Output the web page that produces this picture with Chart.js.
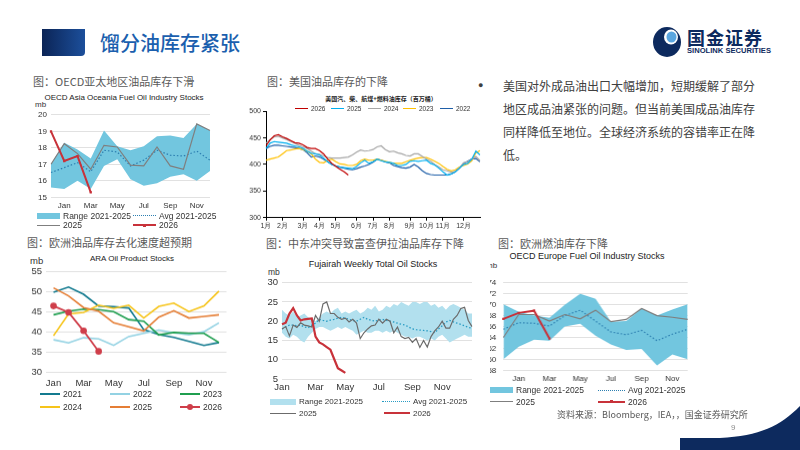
<!DOCTYPE html>
<html lang="zh">
<head>
<meta charset="UTF-8">
<title>馏分油库存紧张</title>
<script src="https://cdn.jsdelivr.net/npm/chart.js"></script>
<style>
  body { margin:0; width:800px; height:450px; position:relative; overflow:hidden; background:#fff;
         font-family:'Liberation Sans', Arial, 'Noto Sans CJK SC', sans-serif; }
  .abs { position:absolute; white-space:nowrap; }
  .cn { font-family:'Noto Sans CJK SC', sans-serif; }
  .cap { font-family:'Noto Sans CJK SC', sans-serif; font-size:11px; color:#595959; line-height:14px; }
  .ttl { font-size:8px; color:#222; transform:translateX(-50%); line-height:10px; }
  .box { position:absolute; }
  .lg { position:absolute; display:flex; align-items:center; height:10px; white-space:nowrap; color:#333; }
  .sw { position:relative; display:inline-block; height:10px; margin-right:3px; }
</style>
</head>
<body>

<!-- header -->
<div class="abs" style="left:42px;top:29px;width:43px;height:27px;background:linear-gradient(90deg,#0b2456,#1c4f9b);border-radius:0 0 4px 0;"></div>
<div class="abs cn" style="left:100px;top:29px;font-size:20px;line-height:28px;color:#1b5fae;font-weight:500;">馏分油库存紧张</div>
<svg class="abs" style="left:652px;top:26px" width="32" height="32" viewBox="0 0 32 32">
  <ellipse cx="15" cy="16" rx="14" ry="15" fill="#0d2a5e"/>
  <ellipse cx="19" cy="11" rx="7" ry="7.5" fill="#fff"/>
  <ellipse cx="19.5" cy="11" rx="5" ry="5.5" fill="#5aa6e0"/>
</svg>
<div class="abs cn" style="left:687px;top:26px;font-size:18px;line-height:22px;font-weight:700;color:#0d2a5e;letter-spacing:1px;">国金证券</div>
<div class="abs" style="left:687px;top:46px;font-size:7.6px;line-height:9px;font-weight:700;color:#0d2a5e;">SINOLINK SECURITIES</div>

<!-- captions -->
<div class="abs cap" style="left:33px;top:74px;">图：OECD亚太地区油品库存下滑</div>
<div class="abs cap" style="left:267px;top:74px;">图：美国油品库存的下降</div>
<div class="abs cap" style="left:27px;top:235px;">图：欧洲油品库存去化速度超预期</div>
<div class="abs cap" style="left:266px;top:236px;">图：中东冲突导致富查伊拉油品库存下降</div>
<div class="abs cap" style="left:498px;top:236px;">图：欧洲燃油库存下降</div>

<!-- bullet text -->
<div class="abs" style="left:478px;top:80px;font-size:9px;color:#404040;">●</div>
<div class="abs cn" style="left:503px;top:74px;font-size:12px;line-height:23px;color:#404040;">美国对外成品油出口大幅增加，短期缓解了部分<br>地区成品油紧张的问题。但当前美国成品油库存<br>同样降低至地位。全球经济系统的容错率正在降<br>低。</div>

<!-- chart titles -->
<div class="abs ttl" style="left:124px;top:93px;">OECD Asia Oceania Fuel Oil Industry Stocks</div>
<div class="abs" style="left:35px;top:100px;font-size:8px;color:#333;">mb</div>
<div class="abs ttl cn" style="left:381px;top:94px;font-size:6px;font-weight:700;">美国汽、柴、航煤+燃料油库存（百万桶）</div>
<div class="abs ttl" style="left:132px;top:254px;">ARA Oil Product Stocks</div>
<div class="abs" style="left:30px;top:255px;font-size:9.5px;color:#333;">mb</div>
<div class="abs ttl" style="left:373px;top:259px;font-size:9px;">Fujairah Weekly Total Oil Stocks</div>
<div class="abs" style="left:268px;top:267px;font-size:8.5px;color:#333;">mb</div>
<div class="abs ttl" style="left:587px;top:251px;font-size:9px;">OECD Europe Fuel Oil Industry Stocks</div>
<div class="abs" style="left:490px;top:261px;width:14px;overflow:hidden;font-size:8px;color:#333;"><span style="margin-left:-4px">mb</span></div>

<div class="box" id="b1"><canvas id="c1"></canvas></div>
<div class="box" id="b2"><canvas id="c2"></canvas></div>
<div class="box" id="b3"><canvas id="c3"></canvas></div>
<div class="box" id="b4"><canvas id="c4"></canvas></div>
<div class="box" id="b5"><canvas id="c5"></canvas></div>

<div id="legends"></div>

<!-- footer -->
<div class="abs cn" style="left:557px;top:408px;font-size:9px;color:#595959;">资料来源：Bloomberg，IEA，，国金证券研究所</div>
<div class="abs" style="left:731px;top:423px;font-size:8px;color:#8c8c8c;">9</div>
<svg class="abs" style="left:600px;top:400px" width="200" height="50" viewBox="0 0 200 50">
  <path d="M200,6 C180,26 160,36 120,38 L80,38 L80,50 L200,50 Z" fill="#0d2a5e"/>
</svg>

<script>
// ---------- OECD Asia Oceania (Dec..Dec) ----------
const asiaMonths = ['Dec','Jan','Feb','Mar','Apr','May','Jun','Jul','Aug','Sep','Oct','Nov','Dec'];
const asiaTicks  = ['', 'Jan', '', 'Mar', '', 'May', '', 'Jul', '', 'Sep', '', 'Nov', ''];
const asiaUpper  = [17.0, 18.3, 17.9, 17.35, 19.05, 18.1, 17.85, 18.1, 18.7, 18.75, 18.6, 19.45, 19.05];
const asiaLower  = [15.6, 15.5, 16.0, 15.5, 16.9, 17.3, 16.1, 15.7, 15.85, 16.25, 16.4, 16.0, 16.6];
const asiaAvg    = [16.5, 16.8, 17.1, 16.55, 17.85, 17.75, 16.9, 17.25, 17.85, 17.55, 17.5, 17.8, 17.25];
const asia2025   = [17.0, 18.25, 17.65, 16.7, 18.15, 18.05, 16.95, 16.9, 18.05, 16.9, 16.7, 19.45, 19.05];
const asia2026   = [19.0, 17.2, 17.5, 15.3];

// ---------- US product stocks, weekly ----------
const usWeeks = Array.from({length: 53}, (_, i) => i);
const usMonthWeeks  = [0, 4, 9, 13, 17, 22, 26, 30, 35, 39, 43, 48];
const usMonthLabels = ['1月','2月','3月','4月','5月','6月','7月','8月','9月','10月','11月','12月'];
const us2026 = [435,446,454,456,452,449,445,441,440,437,432,430,430,426,420,410,402,396,391,386,380];
const us2025 = [430,440,443,442,441,440,437,435,433,430,425,421,420,418,412,405,400,397,395,394,393,392,396,403,408,402,405,410,407,405,404,402,398,398,400,406,407,406,407,408,402,399,393,386,380,382,386,393,400,402,410,425,418];
const us2024 = [440,447,452,453,450,447,443,440,436,433,430,425,420,419,416,413,412,412,412,413,414,418,423,427,425,426,428,433,435,428,424,425,422,420,417,416,420,420,415,410,406,400,395,390,388,385,387,393,403,405,410,415,407];
const us2023 = [408,410,412,414,420,426,427,429,430,428,425,420,410,404,403,408,410,405,401,400,398,398,400,407,410,408,408,410,408,406,404,402,402,402,405,408,410,412,413,413,410,406,402,396,391,388,390,395,398,401,407,422,426];
const us2022 = [430,434,436,436,435,434,433,432,430,428,422,414,416,414,410,405,400,397,395,393,391,390,392,395,397,400,404,410,408,405,403,398,396,394,393,395,400,395,388,383,381,380,380,380,380,382,386,393,402,406,410,411,405];

// ---------- ARA (Jan..Dec) ----------
const araMonths = ['Jan','Feb','Mar','Apr','May','Jun','Jul','Aug','Sep','Oct','Nov','Dec'];
const araTicks  = ['Jan','','Mar','','May','','Jul','','Sep','','Nov',''];
const ara2021 = [49.9, 51.2, 49.4, 46.5, 46.3, 46.0, 40.6, 39.4, 38.7, 37.7, 36.7, 37.4];
const ara2022 = [38.1, 37.3, 38.6, 38.3, 36.7, 38.9, 39.7, 40.5, 39.8, 39.3, 40.1, 42.3];
const ara2023 = [44.3, 45.2, 45.7, 45.6, 45.1, 43.1, 42.7, 39.3, 39.9, 39.7, 39.7, 37.4];
const ara2024 = [39.1, 44.5, 44.9, 46.7, 45.9, 46.7, 43.5, 46.4, 47.2, 45.1, 46.5, 50.2];
const ara2025 = [51.0, 49.0, 46.1, 45.2, 42.3, 41.3, 40.3, 43.7, 45.3, 43.5, 43.9, 44.3];
const ara2026 = [46.5, 44.9, 40.3, 35.2];

// ---------- Fujairah weekly ----------
const fujWeeks = Array.from({length: 52}, (_, i) => i);
const fujMonthWeeks  = [0, 9, 17, 26, 35, 43];
const fujMonthLabels = ['Jan','Mar','May','Jul','Sep','Nov'];
const fujUpper = [23.0,22.0,21.5,22.5,21.0,21.5,22.0,21.0,20.5,20.0,21.0,22.0,22.5,22.0,23.0,23.5,22.0,22.5,22.0,22.5,23.0,22.0,22.5,23.5,23.0,24.0,22.5,23.0,24.0,23.5,24.5,24.0,25.0,24.5,24.0,25.0,25.0,24.5,25.0,25.0,24.0,24.5,23.5,24.0,23.0,24.0,24.5,24.0,23.5,23.0,22.0,22.0];
const fujLower = [17.0,16.0,15.5,16.5,16.0,15.0,14.5,16.0,17.0,18.0,18.5,18.5,18.0,17.5,18.0,18.5,18.0,18.5,18.0,17.5,16.5,17.0,17.5,17.0,17.0,17.5,17.5,17.0,17.5,17.0,17.5,17.0,16.5,16.0,16.0,15.5,16.0,16.0,15.5,15.0,15.5,15.0,16.0,16.5,15.5,14.5,15.0,15.5,16.0,16.5,16.0,16.0];
const fujAvg   = [18.0,18.5,19.0,19.0,18.8,19.0,18.5,18.3,19.0,19.5,20.5,20.2,20.0,20.3,20.5,20.8,21.0,20.8,20.5,20.2,20.0,20.5,21.0,20.5,20.2,20.0,20.3,20.5,20.2,20.0,19.8,19.5,19.2,19.0,18.5,18.0,17.8,17.7,17.6,17.5,17.3,17.0,18.0,18.8,19.8,20.2,19.8,19.5,19.2,18.8,18.4,18.2];
const fuj2025  = [18.0,18.6,16.2,19.0,18.4,19.6,19.0,18.8,18.5,21.5,20.0,24.5,25.0,22.0,22.0,21.0,20.5,20.8,19.8,20.5,19.5,15.5,17.0,18.0,18.8,19.0,20.5,19.5,20.5,20.0,17.0,18.5,16.0,15.5,15.8,14.5,15.5,13.2,15.0,13.3,16.0,17.5,18.5,20.0,18.2,18.2,20.5,21.5,23.3,23.6,20.2,18.6];
const fuj2026  = [19.2,19.6,22.0,23.4,21.5,20.2,20.5,20.6,20.7,16.0,14.5,14.0,13.3,12.6,10.2,7.8,7.2,6.6];

// ---------- OECD Europe (Dec..Dec) ----------
const eurMonths = ['Dec','Jan','Feb','Mar','Apr','May','Jun','Jul','Aug','Sep','Oct','Nov','Dec'];
const eurTicks  = ['', 'Jan', '', 'Mar', '', 'May', '', 'Jul', '', 'Sep', '', 'Nov', ''];
const eurUpper = [70.1, 68.7, 68.0, 67.6, 70.0, 72.0, 71.1, 66.9, 67.0, 69.3, 68.0, 69.1, 70.1];
const eurLower = [60.0, 62.3, 63.6, 63.4, 66.0, 66.5, 64.3, 62.7, 61.7, 61.9, 58.9, 60.9, 60.0];
const eurAvg   = [65.5, 66.7, 66.6, 66.1, 68.0, 69.0, 67.0, 65.0, 64.5, 65.3, 63.4, 64.6, 65.5];
const eur2025  = [64.0, 68.2, 68.2, 67.0, 68.2, 67.4, 69.0, 66.9, 67.3, 69.3, 68.0, 67.7, 67.3];
const eur2026  = [67.4, 68.5, 68.9, 63.8];

// ---------- helpers ----------
Chart.defaults.font.family = "'Liberation Sans', Arial, sans-serif";
Chart.defaults.color = '#333';

const BAND = '#72c6df', BAND_LIGHT = '#b2e0ee', RED = '#c8323a', GREY = '#7f7f7f', DOT = '#2c7fb1';

function placeBox(id, l, t, r, b, yW, xH, padT, padR) {
  const el = document.getElementById(id);
  el.style.left = (l - yW) + 'px';
  el.style.top = (t - padT) + 'px';
  el.style.width = (r - l + yW + padR) + 'px';
  el.style.height = (b - t + padT + xH) + 'px';
}

function gridY(min, max, step, fs, yW, pad) {
  return {
    min: min, max: max,
    afterFit: s => { s.width = yW; },
    ticks: { stepSize: step, autoSkip: false, font: { size: fs }, padding: pad || 4, color: '#333' },
    grid: { color: '#d9d9d9', lineWidth: 0.8, drawTicks: false },
    border: { display: false }
  };
}

function catX(labels, tickFn, fs, xH, offset, pad) {
  return {
    type: 'category', labels: labels, offset: offset,
    afterFit: s => { s.height = xH; },
    ticks: { autoSkip: false, maxRotation: 0, font: { size: fs }, padding: pad, color: '#333',
             callback: (v, i) => tickFn(i) },
    grid: { display: false, drawTicks: false },
    border: { display: false }
  };
}

function baseOpts(padT, padR, x, y) {
  return {
    animation: false, responsive: true, maintainAspectRatio: false,
    layout: { padding: { top: padT, right: padR, left: 0, bottom: 0 }, autoPadding: false },
    plugins: { legend: { display: false }, tooltip: { enabled: false }, title: { display: false } },
    elements: { line: { tension: 0 }, point: { radius: 0 } },
    scales: { x: x, y: y }
  };
}

function bandSets(upper, lower, color) {
  return [
    { data: upper, borderWidth: 0, pointRadius: 0, fill: '+1', backgroundColor: color },
    { data: lower, borderWidth: 0, pointRadius: 0, fill: false }
  ];
}

// ---------- chart 1 ----------
placeBox('b1', 51, 111.7, 210, 197, 30, 18, 6, 8);
new Chart(document.getElementById('c1'), {
  type: 'line',
  data: { labels: asiaMonths, datasets: [
    { data: asia2026, borderColor: RED, borderWidth: 2, pointRadius: 1.6, pointStyle: 'rect', pointBackgroundColor: RED, pointBorderWidth: 0 },
    { data: asia2025, borderColor: GREY, borderWidth: 1.2 },
    { data: asiaAvg, borderColor: DOT, borderWidth: 1.2, borderDash: [1.5, 2] },
    ...bandSets(asiaUpper, asiaLower, BAND)
  ]},
  options: baseOpts(6, 8, catX(asiaMonths, i => asiaTicks[i], 8, 18, false, 4), gridY(15, 20, 1, 8, 30))
});

// ---------- chart 2 ----------
placeBox('b2', 266, 110, 480, 216.7, 30, 14, 5, 6);
const usAxisColor = '#000';
new Chart(document.getElementById('c2'), {
  type: 'line',
  data: { labels: usWeeks, datasets: [
    { data: us2026, borderColor: '#c00000', borderWidth: 1.2 },
    { data: us2025, borderColor: '#00b0f0', borderWidth: 1.2 },
    { data: us2024, borderColor: '#a6a6a6', borderWidth: 1.2 },
    { data: us2023, borderColor: '#ffc000', borderWidth: 1.2 },
    { data: us2022, borderColor: '#1f5fa8', borderWidth: 1.2 }
  ]},
  options: baseOpts(5, 6,
    {
      type: 'category', labels: usWeeks, offset: false,
      afterFit: s => { s.height = 14; },
      ticks: { autoSkip: false, maxRotation: 0, font: { size: 7 }, padding: 1, color: '#333',
               callback: (v, i) => { const k = usMonthWeeks.indexOf(i); return k >= 0 ? usMonthLabels[k] : ''; } },
      grid: { drawOnChartArea: false, tickLength: 3,
              tickColor: c => usMonthWeeks.indexOf(c.index) >= 0 ? usAxisColor : 'rgba(0,0,0,0)' },
      border: { display: true, color: usAxisColor, width: 1 }
    },
    {
      min: 300, max: 500,
      afterFit: s => { s.width = 30; },
      ticks: { stepSize: 50, font: { size: 7 }, padding: 2, color: '#333' },
      grid: { drawOnChartArea: false, tickLength: 3, tickColor: usAxisColor },
      border: { display: true, color: usAxisColor, width: 1 }
    })
});

// ---------- chart 3 ----------
placeBox('b3', 45.5, 268.3, 226, 371.7, 33, 20, 6, 6);
new Chart(document.getElementById('c3'), {
  type: 'line',
  data: { labels: araMonths, datasets: [
    { data: ara2026, borderColor: '#cf3e4a', borderWidth: 1.8, pointRadius: 3.3, pointBackgroundColor: '#cf3e4a', pointBorderWidth: 0 },
    { data: ara2025, borderColor: '#e57e35', borderWidth: 1.6 },
    { data: ara2024, borderColor: '#f6c41a', borderWidth: 1.6 },
    { data: ara2023, borderColor: '#1f9e4f', borderWidth: 1.6 },
    { data: ara2022, borderColor: '#93d2e3', borderWidth: 1.6 },
    { data: ara2021, borderColor: '#137a8f', borderWidth: 1.6 }
  ]},
  options: baseOpts(6, 6, catX(araMonths, i => araTicks[i], 9.5, 20, true, 5), gridY(30, 55, 5, 9.5, 33))
});

// ---------- chart 4 ----------
placeBox('b4', 281.7, 279.3, 471.7, 379.3, 30, 18, 6, 8);
new Chart(document.getElementById('c4'), {
  type: 'line',
  data: { labels: fujWeeks, datasets: [
    { data: fuj2026, borderColor: RED, borderWidth: 2.2 },
    { data: fuj2025, borderColor: '#6b6b6b', borderWidth: 1.2 },
    { data: fujAvg, borderColor: '#2a9cc4', borderWidth: 1.3, borderDash: [1.5, 2] },
    ...bandSets(fujUpper, fujLower, BAND_LIGHT)
  ]},
  options: baseOpts(6, 8,
    catX(fujWeeks, i => { const k = fujMonthWeeks.indexOf(i); return k >= 0 ? fujMonthLabels[k] : ''; }, 9.5, 18, false, 3),
    gridY(5, 30, 5, 9.5, 30))
});

// ---------- chart 5 (canvas starts at x=490, clipping the tick labels like the source) ----------
placeBox('b5', 503.3, 276.7, 686.7, 370, 13.3, 17, 6, 6);
new Chart(document.getElementById('c5'), {
  type: 'line',
  data: { labels: eurMonths, datasets: [
    { data: eur2026, borderColor: RED, borderWidth: 2, pointRadius: 1.6, pointStyle: 'rect', pointBackgroundColor: RED, pointBorderWidth: 0 },
    { data: eur2025, borderColor: GREY, borderWidth: 1.2 },
    { data: eurAvg, borderColor: DOT, borderWidth: 1.2, borderDash: [1.5, 2] },
    ...bandSets(eurUpper, eurLower, BAND)
  ]},
  options: baseOpts(6, 6, catX(eurMonths, i => eurTicks[i], 8, 17, false, 4), gridY(58, 74, 2, 8, 13.3, 7))
});

// ---------- HTML legends ----------
function legend(x, y, w, kind, color, text, fs) {
  const d = document.createElement('div');
  d.className = 'lg';
  d.style.left = x + 'px';
  d.style.top = (y - 5) + 'px';
  d.style.fontSize = fs + 'px';
  const sw = document.createElement('span');
  sw.className = 'sw';
  sw.style.width = w + 'px';
  let inner = '';
  if (kind === 'band') inner = `<i style="position:absolute;left:0;right:0;top:2px;height:6px;background:${color}"></i>`;
  if (kind === 'line') inner = `<i style="position:absolute;left:0;right:0;top:4.5px;height:1.3px;background:${color}"></i>`;
  if (kind === 'thick') inner = `<i style="position:absolute;left:0;right:0;top:4px;height:2px;background:${color}"></i>`;
  if (kind === 'dot') inner = `<i style="position:absolute;left:0;right:0;top:4.5px;border-top:1.4px dotted ${color}"></i>`;
  if (kind === 'rect') inner = `<i style="position:absolute;left:0;right:0;top:4px;height:2px;background:${color}"></i><i style="position:absolute;left:${w/2-1.5}px;top:3.5px;width:3px;height:3px;background:${color}"></i>`;
  if (kind === 'circle') inner = `<i style="position:absolute;left:0;right:0;top:4px;height:2px;background:${color}"></i><i style="position:absolute;left:${w/2-3}px;top:2px;width:6px;height:6px;border-radius:50%;background:${color}"></i>`;
  sw.innerHTML = inner;
  d.appendChild(sw);
  d.appendChild(document.createTextNode(text));
  document.getElementById('legends').appendChild(d);
}

// chart 1
legend(37, 215.7, 23, 'band', BAND, 'Range 2021-2025', 8.5);
legend(133, 215.7, 23, 'dot', DOT, 'Avg 2021-2025', 8.5);
legend(37, 225.3, 23, 'line', GREY, '2025', 8.5);
legend(133, 225.3, 23, 'rect', RED, '2026', 8.5);
// chart 2
legend(295, 108, 13, 'line', '#c00000', '2026', 6.5);
legend(331, 108, 13, 'line', '#00b0f0', '2025', 6.5);
legend(368, 108, 13, 'line', '#a6a6a6', '2024', 6.5);
legend(403, 108, 13, 'line', '#ffc000', '2023', 6.5);
legend(440, 108, 13, 'line', '#1f5fa8', '2022', 6.5);
// chart 3
legend(40, 394, 20, 'thick', '#137a8f', '2021', 8.5);
legend(110, 394, 20, 'thick', '#93d2e3', '2022', 8.5);
legend(180, 394, 20, 'thick', '#1f9e4f', '2023', 8.5);
legend(40, 407.3, 20, 'thick', '#f6c41a', '2024', 8.5);
legend(110, 407.3, 20, 'thick', '#e57e35', '2025', 8.5);
legend(180, 407.3, 20, 'circle', '#cf3e4a', '2026', 8.5);
// chart 4
legend(270, 401.7, 26, 'band', BAND_LIGHT, 'Range 2021-2025', 8);
legend(382, 401.7, 28, 'dot', '#2a9cc4', 'Avg 2021-2025', 8);
legend(270, 413.3, 26, 'line', '#6b6b6b', '2025', 8);
legend(384, 413.3, 26, 'thick', RED, '2026', 8);
// chart 5
legend(490, 390, 23, 'band', BAND, 'Range 2021-2025', 8.5);
legend(598, 390, 27, 'dot', DOT, 'Avg 2021-2025', 8.5);
legend(490, 401.7, 23, 'line', GREY, '2025', 8.5);
legend(598, 401.7, 27, 'rect', RED, '2026', 8.5);
</script>
</body>
</html>
